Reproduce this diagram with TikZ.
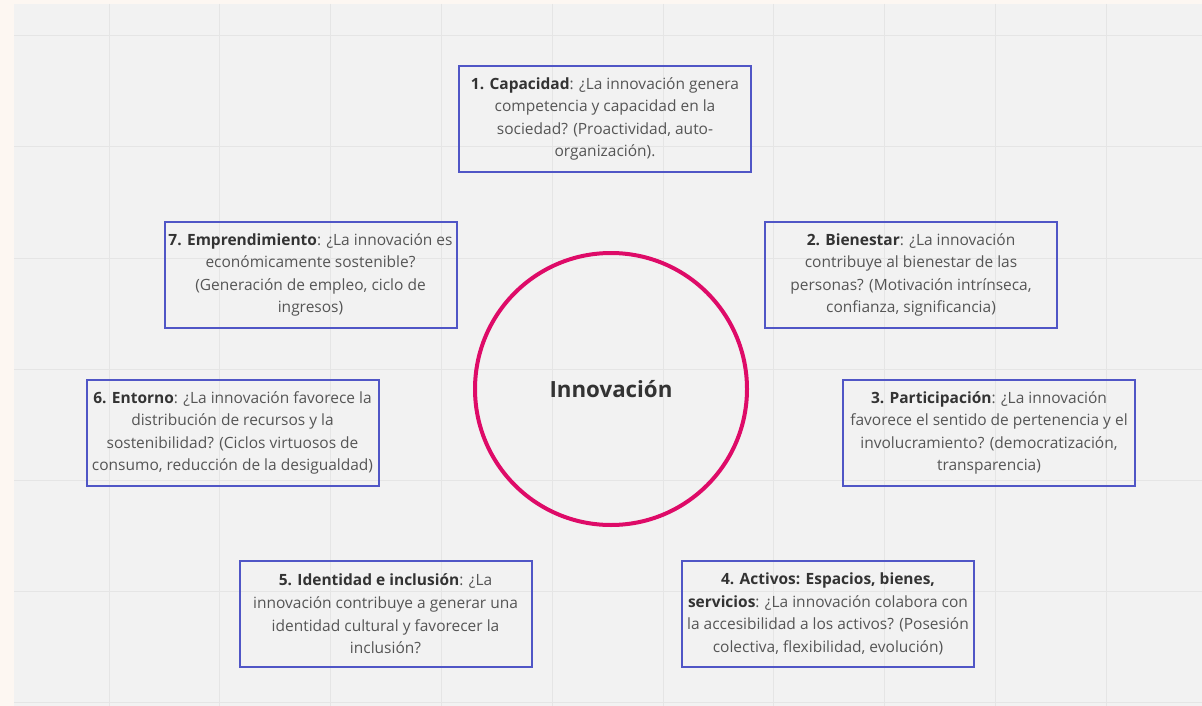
\documentclass[tikz,border=0pt]{standalone}
\usepackage{fontspec}
\setmainfont{Open Sans}
\definecolor{boxblue}{HTML}{5056C6}
\definecolor{ringred}{HTML}{DE0B68}
\definecolor{txtgray}{HTML}{555555}
\definecolor{txtdark}{HTML}{333333}
\definecolor{paper}{HTML}{F2F2F2}
\definecolor{gridline}{HTML}{E5E5E5}
\definecolor{cream}{HTML}{FDF7F2}
\newcommand{\dimname}[1]{\textcolor{txtdark}{\textbf{#1}}}
\begin{document}
\begin{tikzpicture}[x=1pt, y=-1pt,
    question/.style={draw=boxblue, line width=2pt, minimum width=292pt, minimum height=106pt,
        inner sep=0pt, align=center, text=txtgray, font=\fontsize{15.5}{22.6}\selectfont}]
    \useasboundingbox (0,0) rectangle (1202,706);
    \fill[cream] (0,0) rectangle (1202,706);
    \fill[paper] (14,4) rectangle (1202,706);
    \foreach \gx in {0,...,9}
        \draw[gridline, line width=1pt] ({109+110.8*\gx},4) -- ++(0,702);
    \foreach \gy in {0,...,6}
        \draw[gridline, line width=1pt] (14,{36+111*\gy}) -- (1202,{36+111*\gy});
    \node[draw=ringred, line width=4pt, circle, minimum size=272pt, text=txtdark,
        font=\fontsize{22.3}{26}\selectfont\bfseries] (innovacion) at (611,389) {Innovación};
    \node[question] (capacidad) at (605,119) {\dimname{1. Capacidad}: ¿La innovación genera\\competencia y capacidad en la\\sociedad? (Proactividad, auto-\\organización).};
    \node[question] (bienestar) at (911,275) {\dimname{2. Bienestar}: ¿La innovación\\contribuye al bienestar de las\\personas? (Motivación intrínseca,\\confianza, significancia)};
    \node[question] (participacion) at (989,433) {\dimname{3. Participación}: ¿La innovación\\favorece el sentido de pertenencia y el\\involucramiento? (democratización,\\transparencia)};
    \node[question] (activos) at (828,614) {\dimname{4. Activos: Espacios, bienes,}\\\dimname{servicios}: ¿La innovación colabora con\\la accesibilidad a los activos? (Posesión\\colectiva, flexibilidad, evolución)};
    \node[question] (identidad) at (385.5,614) {\dimname{5. Identidad e inclusión}: ¿La\\innovación contribuye a generar una\\identidad cultural y favorecer la\\inclusión?};
    \node[question] (entorno) at (232.5,433) {\dimname{6. Entorno}: ¿La innovación favorece la\\distribución de recursos y la\\sostenibilidad? (Ciclos virtuosos de\\consumo, reducción de la desigualdad)};
    \node[question] (emprendimiento) at (310.5,275) {\dimname{7. Emprendimiento}: ¿La innovación es\\económicamente sostenible?\\(Generación de empleo, ciclo de\\ingresos)};
\end{tikzpicture}
\end{document}
